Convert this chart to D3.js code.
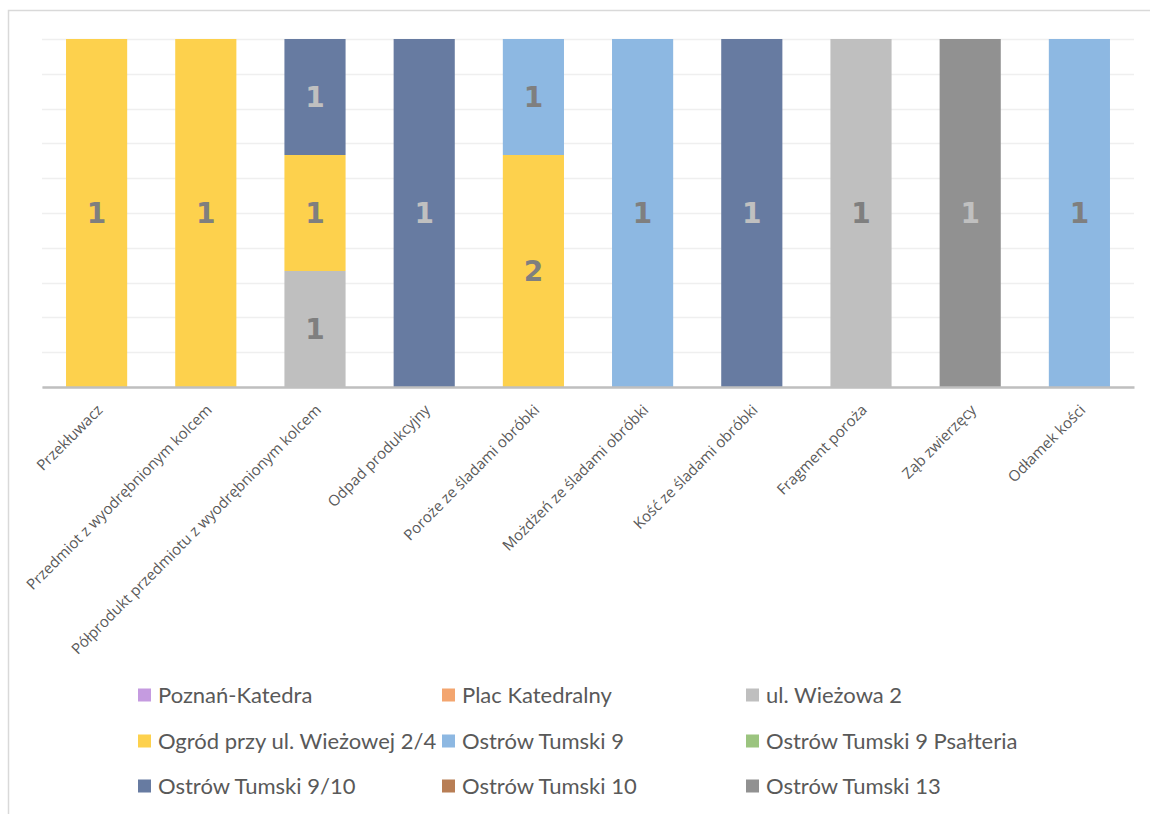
<!DOCTYPE html>
<html>
<head>
<meta charset="utf-8">
<script src="https://cdn.jsdelivr.net/npm/d3@7"></script>
<style>
  body { margin: 0; background: #fff; }
  svg { display: block; }
</style>
</head>
<body>
<svg id="chart"></svg>
<script>
const categories = [
    'Przekłuwacz',
    'Przedmiot z wyodrębnionym kolcem',
    'Półprodukt przedmiotu z wyodrębnionym kolcem',
    'Odpad produkcyjny',
    'Poroże ze śladami obróbki',
    'Możdżeń ze śladami obróbki',
    'Kość ze śladami obróbki',
    'Fragment poroża',
    'Ząb zwierzęcy',
    'Odłamek kości'
];

// series, bottom of the stack first
const seriesNames = [
    'Poznań-Katedra',
    'Plac Katedralny',
    'ul. Wieżowa 2',
    'Ogród przy ul. Wieżowej 2/4',
    'Ostrów Tumski 9',
    'Ostrów Tumski 9 Psałteria',
    'Ostrów Tumski 9/10',
    'Ostrów Tumski 10',
    'Ostrów Tumski 13'
];

const poznanKatedra   = [0, 0, 0, 0, 0, 0, 0, 0, 0, 0];
const placKatedralny  = [0, 0, 0, 0, 0, 0, 0, 0, 0, 0];
const wiezowa2        = [0, 0, 1, 0, 0, 0, 0, 1, 0, 0];
const ogrodWiezowej   = [1, 1, 1, 0, 2, 0, 0, 0, 0, 0];
const ostrowTumski9   = [0, 0, 0, 0, 1, 1, 0, 0, 0, 1];
const ostrowPsalteria = [0, 0, 0, 0, 0, 0, 0, 0, 0, 0];
const ostrowTumski910 = [0, 0, 1, 1, 0, 0, 1, 0, 0, 0];
const ostrowTumski10  = [0, 0, 0, 0, 0, 0, 0, 0, 0, 0];
const ostrowTumski13  = [0, 0, 0, 0, 0, 0, 0, 0, 1, 0];

const seriesValues = [
    poznanKatedra, placKatedralny, wiezowa2, ogrodWiezowej, ostrowTumski9,
    ostrowPsalteria, ostrowTumski910, ostrowTumski10, ostrowTumski13
];

const colors = ['#c59be0', '#f3a56f', '#bfbfbf', '#fdd14d', '#8db8e2',
                '#9bc47f', '#677ba1', '#b87e55', '#919191'];
// label colour per series (light text on the dark fills)
const labelColors = ['#7f7f7f', '#7f7f7f', '#7f7f7f', '#7f7f7f', '#7f7f7f',
                     '#7f7f7f', '#c0c0c0', '#7f7f7f', '#c0c0c0'];

const width = 1150, height = 814;
const margin = { top: 39, right: 16, bottom: 427, left: 42 };

const svg = d3.select('#chart')
    .attr('width', width)
    .attr('height', height);

// chart frame
svg.append('rect')
    .attr('x', 8.5).attr('y', 10.5)
    .attr('width', 1160).attr('height', 820)
    .attr('fill', 'none')
    .attr('stroke', '#d9d9d9')
    .attr('stroke-width', 1.5);

const table = categories.map((c, i) => {
    const row = { category: c };
    seriesNames.forEach((s, j) => row[s] = seriesValues[j][i]);
    return row;
});

const stacked = d3.stack()
    .keys(seriesNames)
    .offset(d3.stackOffsetExpand)(table);

const xscale = d3.scaleBand()
    .domain(categories)
    .range([margin.left, width - margin.right])
    .paddingInner(0.44)
    .paddingOuter(0.22);

const yscale = d3.scaleLinear()
    .domain([0, 1])
    .range([height - margin.bottom, margin.top]);

// gridlines
svg.append('g')
    .selectAll('line')
    .data(yscale.ticks(10))
    .join('line')
    .attr('x1', margin.left)
    .attr('x2', width - margin.right)
    .attr('y1', d => Math.round(yscale(d)) + 0.5)
    .attr('y2', d => Math.round(yscale(d)) + 0.5)
    .attr('stroke', '#efefef')
    .attr('stroke-width', 1.5);

// bars
const layers = svg.append('g')
    .selectAll('g')
    .data(stacked)
    .join('g')
    .attr('fill', (d, i) => colors[i]);

layers.selectAll('rect')
    .data(d => d.filter(p => p[1] > p[0]))
    .join('rect')
    .attr('x', d => xscale(d.data.category))
    .attr('y', d => yscale(d[1]))
    .attr('width', xscale.bandwidth())
    .attr('height', d => yscale(d[0]) - yscale(d[1]));

// x axis
const xaxis = d3.axisBottom(xscale).tickSize(0).tickSizeOuter(0);
const xaxisGroup = svg.append('g')
    .attr('transform', `translate(0, ${height - margin.bottom})`)
    .call(xaxis)
    .attr('font-family', '"Open Sans", sans-serif')
    .attr('font-size', 15);

xaxisGroup.select('.domain')
    .attr('stroke', '#bfbfbf')
    .attr('stroke-width', 2.5);

xaxisGroup.selectAll('.tick text')
    .attr('fill', '#595959')
    .attr('text-anchor', 'end')
    .attr('x', 0).attr('y', 0).attr('dy', '0.75em')
    .attr('transform', 'translate(-1, 16) rotate(-45)');

// data labels
layers.each(function (layer, i) {
    d3.select(this).selectAll('text')
        .data(layer.filter(p => p[1] > p[0]))
        .join('text')
        .attr('x', d => xscale(d.data.category) + xscale.bandwidth() / 2)
        .attr('y', d => yscale((d[0] + d[1]) / 2))
        .attr('dy', '0.36em')
        .attr('text-anchor', 'middle')
        .attr('font-family', '"DejaVu Sans", sans-serif')
        .attr('font-weight', 'bold')
        .attr('font-size', 28)
        .attr('fill', labelColors[i])
        .text(d => d.data[layer.key]);
});

// legend, three columns
const legendX = [138, 442, 746];
const legendY = [695, 741, 786];
const legend = svg.append('g')
    .selectAll('g')
    .data(seriesNames)
    .join('g')
    .attr('transform', (d, i) => `translate(${legendX[i % 3]}, ${legendY[Math.floor(i / 3)]})`);

legend.append('rect')
    .attr('x', 0).attr('y', -6.5)
    .attr('width', 13).attr('height', 13)
    .attr('fill', (d, i) => colors[i]);

legend.append('text')
    .attr('x', 20)
    .attr('y', 7.5)
    .attr('font-family', 'Lato, sans-serif')
    .attr('font-size', 22)
    .attr('fill', '#595959')
    .text(d => d);
</script>
</body>
</html>
